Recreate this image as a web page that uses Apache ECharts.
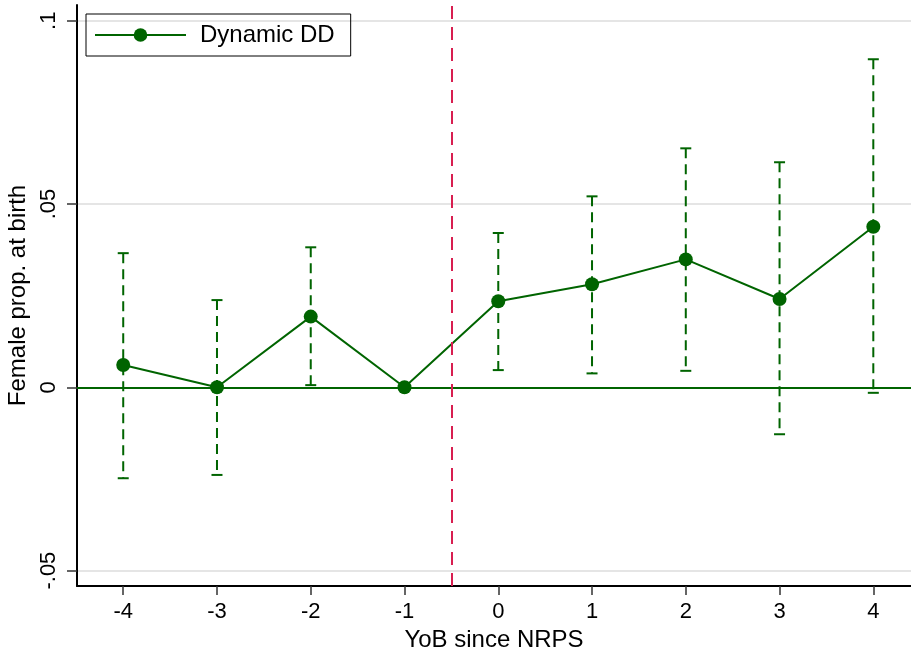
<!DOCTYPE html>
<html>
<head>
<meta charset="utf-8">
<title>Dynamic DD</title>
<script src="https://cdn.jsdelivr.net/npm/echarts@6/dist/echarts.min.js"></script>
<style>
  html, body { margin: 0; padding: 0; background: #fff; }
  #main { width: 911px; height: 650px; }
</style>
</head>
<body>
<div id="main"></div>
<script>
// years of birth relative to NRPS
var years = [-4, -3, -2, -1, 0, 1, 2, 3, 4];
// point estimates and 95% CI bounds
var coef   = [0.0061, 0, 0.0193, 0, 0.0235, 0.0281, 0.0349, 0.0241, 0.0438];
var ciLow  = [-0.0248, -0.0239, 0.0006, null, 0.0047, 0.0038, 0.0045, -0.0128, -0.0015];
var ciHigh = [0.0366, 0.0238, 0.0382, null, 0.0421, 0.0521, 0.0652, 0.0614, 0.0895];
// axis ticks
var xTicks = [-4, -3, -2, -1, 0, 1, 2, 3, 4];
var yTicks = [-0.05, 0, 0.05, 0.1];
var yTickLabels = ['-.05', '0', '.05', '.1'];

var green = '#006400';
var font = 'Liberation Sans, Arial, sans-serif';

var lineData = years.map(function (x, i) { return [x, coef[i]]; });
var ciData = [];
years.forEach(function (x, i) {
  if (ciLow[i] !== null) ciData.push([x, ciLow[i], ciHigh[i]]);
});

var chart = echarts.init(document.getElementById('main'));
chart.setOption({
  animation: false,
  grid: { left: 77, right: 0, top: 5, bottom: 64, outerBoundsMode: 'none' },
  legend: {
    left: 86, top: 14,
    padding: [9, 16, 9, 8],
    borderColor: '#000', borderWidth: 1,
    itemWidth: 91, itemHeight: 17,
    textStyle: { fontFamily: font, fontSize: 24, color: '#000', padding: [0, 0, 0, 9] },
    data: ['Dynamic DD']
  },
  xAxis: [{
    type: 'value',
    min: -4.493, max: 4.402,
    name: 'YoB since NRPS',
    nameLocation: 'middle', nameGap: 38,
    nameTextStyle: { fontFamily: font, fontSize: 24, color: '#000' },
    axisLine: { onZero: false, lineStyle: { color: '#000', width: 2 } },
    axisTick: { show: true, customValues: xTicks, length: 9, lineStyle: { color: '#333', width: 1.5 } },
    axisLabel: { customValues: xTicks, fontFamily: font, fontSize: 22, color: '#000', margin: 15 },
    splitLine: { show: false }
  }, {
    type: 'value', position: 'top',
    min: -4.493, max: 4.402,
    axisLine: { show: true, lineStyle: { color: '#333', width: 2 } },
    axisTick: { show: false }, axisLabel: { show: false }, splitLine: { show: false }
  }],
  yAxis: {
    type: 'value',
    min: -0.0542, max: 0.1043,
    name: 'Female prop. at birth',
    nameLocation: 'middle', nameGap: 45,
    nameTextStyle: { fontFamily: font, fontSize: 24, color: '#000' },
    axisLine: { show: true, onZero: false, lineStyle: { color: '#000', width: 2 } },
    axisTick: { show: true, customValues: yTicks, length: 10, lineStyle: { color: '#333', width: 1.5 } },
    axisLabel: {
      customValues: yTicks, rotate: 90, margin: 17,
      fontFamily: font, fontSize: 22, color: '#000',
      formatter: function (v) {
        for (var i = 0; i < yTicks.length; i++) {
          if (Math.abs(v - yTicks[i]) < 1e-9) return yTickLabels[i];
        }
        return '';
      }
    },
    splitLine: { show: true, lineStyle: { color: '#dcdcdc', width: 1.5 } }
  },
  series: [{
    type: 'custom',
    name: 'ci',
    data: ciData,
    z: 2,
    renderItem: function (params, api) {
      var x = api.value(0);
      var lo = api.coord([x, api.value(1)]);
      var hi = api.coord([x, api.value(2)]);
      var cap = 5.5;
      var st = { stroke: green, lineWidth: 2, lineDash: [10, 6] };
      var capSt = { stroke: green, lineWidth: 2 };
      return {
        type: 'group',
        children: [
          { type: 'line', shape: { x1: hi[0], y1: hi[1], x2: lo[0], y2: lo[1] }, style: st },
          { type: 'line', shape: { x1: hi[0] - cap, y1: hi[1], x2: hi[0] + cap, y2: hi[1] }, style: capSt },
          { type: 'line', shape: { x1: lo[0] - cap, y1: lo[1], x2: lo[0] + cap, y2: lo[1] }, style: capSt }
        ]
      };
    }
  }, {
    type: 'line',
    name: 'Dynamic DD',
    data: lineData,
    z: 3,
    symbol: 'circle', symbolSize: 14,
    itemStyle: { color: green },
    lineStyle: { color: green, width: 2 },
    markLine: {
      silent: true, symbol: 'none',
      label: { show: false },
      data: [
        { yAxis: 0, lineStyle: { color: green, width: 2, type: 'solid' } },
        { xAxis: -0.5, lineStyle: { color: '#d81e50', width: 2, type: [13, 8] } }
      ]
    }
  }]
});
</script>
</body>
</html>
